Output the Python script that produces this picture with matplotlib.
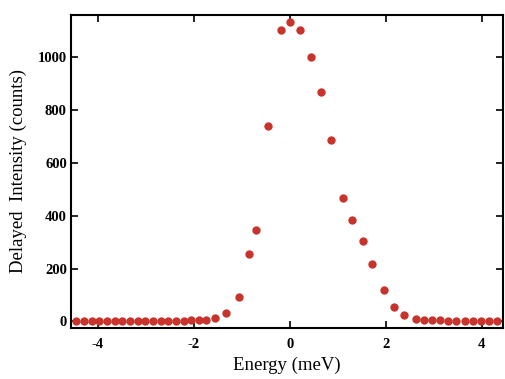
import matplotlib
matplotlib.use("Agg")
import matplotlib.pyplot as plt

plt.rcParams['font.family'] = ['Liberation Serif', 'DejaVu Serif']
plt.rcParams['axes.unicode_minus'] = False

energy = [-4.45, -4.29, -4.13, -3.97, -3.81, -3.65, -3.49, -3.33, -3.17, -3.01,
          -2.85, -2.69, -2.53, -2.37, -2.21, -2.05, -1.90, -1.75,
          -1.56, -1.33, -1.06, -0.86, -0.71, -0.45, -0.19, 0.01, 0.22, 0.43,
          0.64, 0.85, 1.11, 1.30, 1.53, 1.72, 1.97, 2.17, 2.38, 2.62,
          2.79, 2.96, 3.13, 3.30, 3.47, 3.64, 3.81, 3.98, 4.15, 4.32]
counts = [2, 2, 2, 2, 2, 2, 2, 2, 2, 3,
          3, 3, 3, 3, 3, 4, 4, 6,
          12, 31, 92, 256, 347, 739, 1105, 1134, 1105, 1001,
          869, 686, 466, 383, 304, 218, 117, 54, 25, 8,
          5, 4, 4, 3, 3, 3, 3, 3, 3, 3]

xticks = [-4, -2, 0, 2, 4]
yticks = [0, 200, 400, 600, 800, 1000]

fig = plt.figure(figsize=(5.05, 3.79), dpi=100)
ax = fig.add_axes([0.1406, 0.1346, 0.8554, 0.8258])

ax.plot(energy, counts, 'o', color='#c8332b', markersize=6, markeredgewidth=0)

ax.set_xlim(-4.56, 4.44)
ax.set_ylim(-25, 1160)
ax.set_xticks(xticks)
ax.set_yticks(yticks)
ax.tick_params(direction='in', top=True, right=True, length=5, width=1.2,
               labelsize=10.5)
ax.tick_params(axis='x', pad=7)
ax.tick_params(axis='y', pad=3)
for lab in ax.get_xticklabels() + ax.get_yticklabels():
    lab.set_fontweight('bold')
for s in ax.spines.values():
    s.set_linewidth(1.5)

ax.set_xlabel("Energy (meV)", fontsize=13.5, labelpad=4)
ax.set_ylabel("Delayed  Intensity (counts)", fontsize=13.5, labelpad=8)

fig.savefig("out.png", dpi=100)
